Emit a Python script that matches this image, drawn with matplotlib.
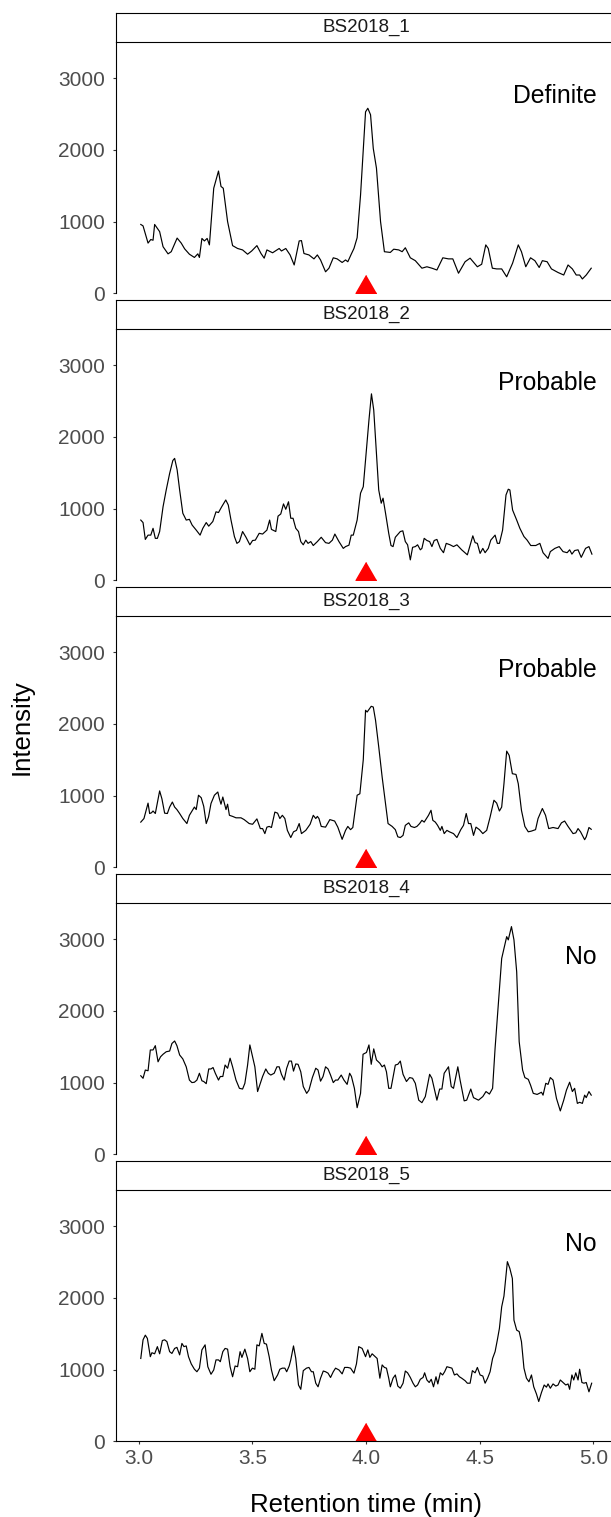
import matplotlib
matplotlib.use('Agg')
import matplotlib.pyplot as plt

plt.rcParams['font.family'] = ['Liberation Sans', 'DejaVu Sans']

# samples
samples = ['BS2018_1', 'BS2018_2', 'BS2018_3', 'BS2018_4', 'BS2018_5']
calls = ['Definite', 'Probable', 'Probable', 'No', 'No']

# expected retention time of the target (red triangle)
target_rt = 4.0
target_y = 130

# chromatograms (retention time in min, intensity)
rt_1 = [3.009, 3.019, 3.041, 3.053, 3.063, 3.070, 3.092, 3.107, 3.129, 3.143,
        3.169, 3.187, 3.202, 3.223, 3.245, 3.260, 3.267, 3.278, 3.289, 3.301,
        3.311, 3.330, 3.351, 3.362, 3.372, 3.391, 3.413, 3.435, 3.457, 3.479,
        3.497, 3.520, 3.538, 3.552, 3.564, 3.589, 3.618, 3.628, 3.647, 3.666,
        3.684, 3.706, 3.716, 3.727, 3.749, 3.771, 3.786, 3.800, 3.822, 3.837,
        3.856, 3.873, 3.895, 3.910, 3.920, 3.935, 3.947, 3.961,
        3.976, 3.998, 4.008, 4.020, 4.032, 4.046, 4.064, 4.081, 4.107, 4.122,
        4.144, 4.159, 4.173, 4.195, 4.217, 4.246, 4.268, 4.290, 4.312, 4.338,
        4.363, 4.382, 4.407, 4.436, 4.458, 4.490, 4.509, 4.527, 4.538, 4.556,
        4.575, 4.597, 4.619, 4.645, 4.670, 4.684, 4.703, 4.724, 4.743, 4.762,
        4.776, 4.797, 4.816, 4.845, 4.870, 4.889, 4.908, 4.925, 4.940, 4.952,
        4.969, 4.991]
int_1 = [960, 940, 700, 750, 740, 960, 860, 650, 550, 580,
         770, 700, 620, 545, 500, 550, 500, 765, 730, 765,
         675, 1465, 1705, 1490, 1465, 1000, 665, 625, 605, 545,
         590, 665, 555, 490, 605, 565, 625, 590, 625, 535,
         395, 730, 735, 555, 535, 480, 535, 465, 300, 350,
         495, 480, 430, 465, 440, 545, 625, 775,
         1370, 2530, 2580, 2490, 2020, 1745, 1000, 580, 570, 615,
         605, 580, 635, 495, 455, 350, 370, 350, 325, 495,
         480, 480, 280, 440, 490, 370, 405, 675, 625, 350,
         340, 340, 230, 420, 675, 580, 370, 495, 455, 360,
         455, 440, 340, 290, 255, 395, 340, 255, 255, 200,
         255, 350]

rt_2 = [3.009, 3.019, 3.029, 3.041, 3.053, 3.063, 3.073, 3.082, 3.092, 3.107,
        3.121, 3.136, 3.150, 3.158, 3.169, 3.180, 3.194, 3.209, 3.223, 3.235,
        3.253, 3.270, 3.282, 3.297, 3.308, 3.326, 3.340, 3.351, 3.365, 3.383,
        3.394, 3.406, 3.421, 3.432, 3.443, 3.457, 3.472, 3.489, 3.501, 3.513,
        3.530, 3.545, 3.564, 3.576, 3.584, 3.603, 3.613, 3.625, 3.637, 3.647,
        3.659, 3.669, 3.679, 3.691, 3.703, 3.713, 3.724, 3.735, 3.745, 3.757,
        3.768, 3.786, 3.803, 3.822, 3.837, 3.852, 3.863, 3.881, 3.900, 3.910,
        3.925, 3.935, 3.944, 3.961,
        3.976, 3.988, 3.998, 4.013, 4.024, 4.034, 4.046, 4.056, 4.067, 4.075,
        4.086, 4.100, 4.110, 4.119, 4.129, 4.151, 4.162, 4.173, 4.183, 4.195,
        4.205, 4.217, 4.227, 4.239, 4.246, 4.256, 4.268, 4.280, 4.290, 4.300,
        4.312, 4.327, 4.341, 4.353, 4.370, 4.385, 4.400, 4.421, 4.446, 4.470,
        4.480, 4.490, 4.502, 4.514, 4.524, 4.538, 4.549, 4.568, 4.578, 4.587,
        4.601, 4.616, 4.626, 4.633, 4.645, 4.663, 4.677, 4.695, 4.709, 4.725,
        4.747, 4.765, 4.779, 4.801, 4.811, 4.831, 4.850, 4.867, 4.885, 4.896,
        4.906, 4.918, 4.933, 4.947, 4.966, 4.981, 4.994]
int_2 = [840, 805, 570, 630, 630, 725, 585, 585, 680, 1025,
         1260, 1490, 1670, 1700, 1540, 1260, 935, 840, 850, 770,
         700, 630, 725, 805, 755, 820, 955, 945, 1025, 1120,
         1050, 840, 610, 515, 540, 680, 600, 495, 555, 560,
         655, 645, 700, 840, 710, 680, 895, 925, 1065, 990,
         1095, 865, 865, 725, 680, 540, 495, 560, 515, 540,
         485, 540, 600, 525, 515, 560, 645, 540, 445, 470,
         490, 630, 630, 840,
         1215, 1305, 1680, 2235, 2600, 2375, 1770, 1260, 1075, 1145,
         935, 655, 485, 470, 600, 680, 690, 540, 495, 285,
         460, 470, 495, 425, 445, 585, 555, 540, 470, 555,
         570, 445, 385, 515, 495, 470, 495, 425, 355, 620,
         525, 515, 375, 445, 385, 445, 560, 630, 515, 515,
         700, 1190, 1270, 1260, 980, 840, 725, 610, 560, 485,
         485, 515, 385, 305, 400, 445, 470, 400, 385, 425,
         365, 415, 425, 320, 445, 470, 365]

rt_3 = [3.009, 3.023, 3.041, 3.048, 3.056, 3.063, 3.073, 3.092, 3.102, 3.114,
        3.126, 3.136, 3.148, 3.158, 3.168, 3.180, 3.194, 3.212, 3.223, 3.238,
        3.245, 3.253, 3.263, 3.275, 3.286, 3.297, 3.307, 3.318, 3.333, 3.348,
        3.355, 3.362, 3.370, 3.377, 3.384, 3.391, 3.399, 3.413, 3.428, 3.450,
        3.464, 3.486, 3.501, 3.520, 3.535, 3.545, 3.555, 3.564, 3.574, 3.584,
        3.599, 3.611, 3.621, 3.632, 3.643, 3.654, 3.669, 3.681, 3.694, 3.706,
        3.716, 3.735, 3.754, 3.768, 3.779, 3.786, 3.793, 3.803, 3.822, 3.841,
        3.852, 3.862, 3.876, 3.895, 3.910, 3.920, 3.932, 3.942, 3.961, 3.973,
        3.988, 3.998, 4.005, 4.013, 4.023, 4.032, 4.042, 4.056, 4.071, 4.086,
        4.097, 4.115, 4.129, 4.140, 4.151, 4.163, 4.173, 4.188, 4.198, 4.213,
        4.224, 4.236, 4.246, 4.256, 4.268, 4.275, 4.286, 4.294, 4.305, 4.315,
        4.327, 4.334, 4.344, 4.356, 4.367, 4.385, 4.400, 4.417, 4.429, 4.441,
        4.451, 4.461, 4.473, 4.484, 4.499, 4.514, 4.531, 4.546, 4.563, 4.575,
        4.587, 4.597, 4.607, 4.619, 4.630, 4.644, 4.660, 4.670, 4.684, 4.699,
        4.714, 4.728, 4.746, 4.757, 4.776, 4.790, 4.804, 4.823, 4.845, 4.860,
        4.874, 4.889, 4.911, 4.923, 4.933, 4.944, 4.962, 4.969, 4.981, 4.991]
int_3 = [630, 680, 895, 750, 760, 785, 750, 1065, 955, 755,
         750, 840, 910, 840, 805, 750, 680, 610, 725, 805,
         840, 805, 1005, 970, 850, 610, 700, 890, 1005, 1050,
         955, 880, 980, 895, 805, 880, 725, 710, 690, 690,
         665, 610, 600, 675, 540, 540, 470, 560, 570, 555,
         770, 755, 680, 725, 680, 515, 415, 495, 515, 610,
         470, 515, 600, 725, 680, 710, 680, 570, 560, 665,
         655, 645, 560, 390, 515, 570, 525, 555, 1005, 1025,
         1500, 2190, 2165, 2200, 2245, 2235, 2050, 1680, 1260, 890,
         610, 570, 525, 425, 415, 445, 585, 620, 570, 555,
         570, 610, 655, 630, 690, 725, 795, 655, 630, 585,
         515, 570, 470, 515, 495, 470, 415, 525, 585, 750,
         610, 610, 445, 560, 525, 470, 515, 700, 935, 895,
         785, 840, 1165, 1620, 1560, 1305, 1295, 1165, 795, 570,
         495, 505, 525, 680, 820, 725, 540, 555, 540, 620,
         645, 570, 470, 480, 540, 495, 385, 425, 555, 530]

rt_4 = [3.009, 3.019, 3.029, 3.041, 3.051, 3.063, 3.073, 3.085, 3.096, 3.107,
        3.121, 3.136, 3.146, 3.158, 3.168, 3.180, 3.194, 3.209, 3.223, 3.234,
        3.245, 3.256, 3.267, 3.278, 3.286, 3.297, 3.308, 3.318, 3.327, 3.337,
        3.351, 3.359, 3.370, 3.380, 3.391, 3.402, 3.413, 3.428, 3.443, 3.457,
        3.467, 3.479, 3.489, 3.501, 3.511, 3.523, 3.535, 3.545, 3.559, 3.570,
        3.581, 3.596, 3.608, 3.618, 3.628, 3.640, 3.651, 3.662, 3.672, 3.681,
        3.691, 3.701, 3.713, 3.724, 3.739, 3.749, 3.764, 3.779, 3.789, 3.800,
        3.811, 3.822, 3.833, 3.844, 3.856, 3.866, 3.876, 3.891, 3.903, 3.917,
        3.928, 3.936, 3.949, 3.961, 3.976, 3.987, 4.002, 4.013, 4.023, 4.034,
        4.046, 4.061, 4.071, 4.081, 4.090, 4.100, 4.110, 4.129, 4.140, 4.151,
        4.163, 4.178, 4.192, 4.205, 4.217, 4.232, 4.246, 4.261, 4.280, 4.290,
        4.312, 4.324, 4.334, 4.344, 4.363, 4.375, 4.385, 4.404, 4.414, 4.432,
        4.443, 4.461, 4.473, 4.495, 4.514, 4.528, 4.543, 4.557, 4.568, 4.582,
        4.597, 4.607, 4.619, 4.626, 4.633, 4.640, 4.651, 4.663, 4.674, 4.689,
        4.699, 4.714, 4.724, 4.736, 4.753, 4.772, 4.779, 4.791, 4.801, 4.811,
        4.823, 4.838, 4.855, 4.870, 4.882, 4.896, 4.908, 4.918, 4.930, 4.940,
        4.952, 4.962, 4.969, 4.981, 4.991]
int_4 = [1095, 1060, 1175, 1165, 1455, 1455, 1515, 1290, 1360, 1395,
         1430, 1440, 1545, 1580, 1515, 1385, 1330, 1220, 1035, 1000,
         1005, 1035, 1130, 1025, 1015, 985, 1190, 1190, 1210, 1130,
         1035, 1085, 1085, 1245, 1200, 1340, 1220, 1035, 920, 910,
         990, 1245, 1525, 1360, 1220, 875, 990, 1085, 1190, 1130,
         1105, 1130, 1220, 1220, 1115, 1035, 1200, 1300, 1300, 1160,
         1260, 1255, 1150, 945, 850, 895, 1070, 1200, 1175, 1020,
         1085, 1220, 1190, 1105, 1000, 1035, 1035, 1105, 1035, 975,
         1130, 1085, 920, 650, 850, 1395, 1420, 1525, 1255, 1470,
         1315, 1270, 1220, 1245, 1150, 920, 920, 1245, 1255, 1300,
         1115, 1015, 1070, 1060, 990, 755, 720, 805, 1115, 1060,
         755, 910, 910, 1130, 1220, 945, 920, 1220, 1035, 745,
         755, 910, 790, 755, 805, 875, 840, 920, 1480, 2080,
         2730, 2870, 3035, 2990, 3080, 3175, 2990, 2545, 1570, 1175,
         1070, 1045, 965, 850, 835, 865, 825, 990, 975, 1070,
         1035, 780, 605, 755, 895, 1005, 875, 920, 710, 725,
         710, 825, 790, 875, 825]

rt_5 = [3.009, 3.019, 3.029, 3.038, 3.051, 3.058, 3.070, 3.082, 3.092, 3.104,
        3.114, 3.124, 3.136, 3.146, 3.158, 3.168, 3.180, 3.190, 3.199, 3.209,
        3.219, 3.231, 3.245, 3.256, 3.267, 3.278, 3.292, 3.304, 3.318, 3.330,
        3.340, 3.351, 3.359, 3.370, 3.380, 3.391, 3.402, 3.413, 3.424, 3.435,
        3.446, 3.454, 3.467, 3.479, 3.489, 3.500, 3.511, 3.520, 3.530, 3.542,
        3.552, 3.562, 3.574, 3.584, 3.596, 3.611, 3.621, 3.632, 3.643, 3.651,
        3.662, 3.669, 3.681, 3.691, 3.703, 3.713, 3.724, 3.738, 3.749, 3.760,
        3.768, 3.779, 3.789, 3.800, 3.812, 3.822, 3.833, 3.844, 3.856, 3.866,
        3.881, 3.895, 3.906, 3.920, 3.932, 3.947, 3.958, 3.968, 3.983, 3.998,
        4.008, 4.017, 4.027, 4.037, 4.049, 4.061, 4.071, 4.081, 4.090, 4.100,
        4.107, 4.119, 4.129, 4.140, 4.151, 4.163, 4.173, 4.183, 4.195, 4.207,
        4.217, 4.227, 4.239, 4.251, 4.258, 4.268, 4.278, 4.287, 4.297, 4.308,
        4.316, 4.327, 4.337, 4.346, 4.356, 4.367, 4.378, 4.389, 4.400, 4.411,
        4.421, 4.436, 4.446, 4.458, 4.468, 4.480, 4.490, 4.502, 4.514, 4.524,
        4.535, 4.546, 4.557, 4.568, 4.578, 4.587, 4.597, 4.607, 4.622, 4.633,
        4.644, 4.651, 4.663, 4.674, 4.684, 4.695, 4.706, 4.717, 4.728, 4.738,
        4.750, 4.760, 4.772, 4.784, 4.794, 4.801, 4.811, 4.823, 4.835, 4.845,
        4.855, 4.867, 4.879, 4.889, 4.896, 4.906, 4.914, 4.923, 4.933, 4.940,
        4.950, 4.959, 4.969, 4.981, 4.993]
int_5 = [1155, 1415, 1480, 1435, 1180, 1235, 1220, 1320, 1220, 1405,
         1415, 1390, 1250, 1225, 1295, 1310, 1205, 1365, 1320, 1330,
         1180, 1080, 1005, 970, 1020, 1275, 1345, 1040, 935, 995,
         1135, 1135, 1110, 1250, 1295, 1285, 1040, 900, 1050, 1040,
         1250, 1170, 1285, 1155, 970, 1020, 1005, 1345, 1330, 1505,
         1365, 1355, 1180, 995, 845, 925, 1005, 1020, 1020, 970,
         1050, 1135, 1330, 1155, 785, 725, 985, 1020, 1030, 970,
         970, 810, 760, 880, 980, 970, 950, 890, 970, 1020,
         995, 940, 1030, 1030, 1020, 950, 1080, 1320, 1295, 1180,
         1275, 1170, 1220, 1190, 1155, 880, 1065, 1030, 1020, 880,
         760, 880, 925, 770, 740, 810, 980, 955, 890, 810,
         760, 785, 865, 890, 955, 855, 820, 865, 760, 900,
         800, 955, 925, 970, 1040, 1030, 1020, 925, 940, 900,
         880, 845, 810, 810, 985, 955, 1030, 925, 910, 810,
         880, 970, 1155, 1250, 1415, 1575, 1875, 2025, 2505, 2410,
         2270, 1690, 1550, 1530, 1390, 1020, 880, 830, 925, 760,
         660, 555, 680, 785, 755, 800, 740, 800, 770, 785,
         855, 820, 785, 800, 725, 925, 855, 955, 855, 1005,
         820, 810, 820, 690, 810]

rts = [rt_1, rt_2, rt_3, rt_4, rt_5]
ints = [int_1, int_2, int_3, int_4, int_5]

# layout in pixels
W, H = 611, 1517
left, width = 116, 500
panel_h, strip_h, step, first_top = 251, 29, 287, 42.3

fig = plt.figure(figsize=(W / 100, H / 100), dpi=100)

for i in range(5):
    top = first_top + step * i
    ax = fig.add_axes([left / W, 1 - (top + panel_h) / H, width / W, panel_h / H])
    ax.plot(rts[i], ints[i], color='black', lw=0.85)
    ax.plot([target_rt], [target_y], ls='none', color='red',
            marker=[(0, 0.866), (-1, -0.866), (1, -0.866)], ms=15)
    ax.text(5.015, 2750, calls[i], ha='right', va='center', fontsize=17.8, color='black')
    ax.set_xlim(2.9, 5.1)
    ax.set_ylim(0, 3500)
    ax.set_yticks([0, 1000, 2000, 3000])
    ax.set_xticks([3.0, 3.5, 4.0, 4.5, 5.0])
    for s in ['top', 'right']:
        ax.spines[s].set_visible(False)
    ax.spines['left'].set_linewidth(0.8)
    ax.tick_params(axis='y', length=2.2, width=0.8, color='#333333',
                   labelsize=15, labelcolor='#4D4D4D', pad=5.8)
    if i < 4:
        ax.spines['bottom'].set_visible(False)
        ax.tick_params(axis='x', bottom=False, labelbottom=False)
    else:
        ax.spines['bottom'].set_linewidth(0.8)
        ax.tick_params(axis='x', length=2.2, width=0.8, color='#333333',
                       labelsize=15, labelcolor='#4D4D4D', pad=3.6)

    # facet strip
    sax = fig.add_axes([left / W, 1 - top / H, width / W, strip_h / H])
    sax.set_xticks([])
    sax.set_yticks([])
    for s in sax.spines.values():
        s.set_linewidth(0.8)
    sax.text(0.5, 0.5, samples[i], ha='center', va='center', fontsize=13.5,
             color='#1A1A1A', transform=sax.transAxes)

fig.text(366 / W, 1 - 1512 / H, 'Retention time (min)', ha='center', va='baseline',
         fontsize=18.5)
fig.text(22 / W, 1 - 727 / H, 'Intensity', ha='center', va='center', rotation=90,
         fontsize=18.5)

fig.savefig('out.png', dpi=100)
